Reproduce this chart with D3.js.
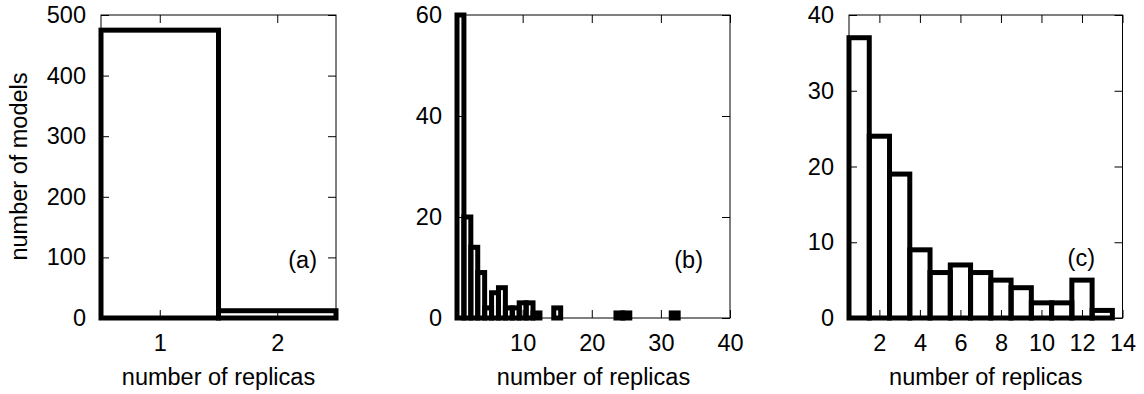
<!DOCTYPE html>
<html>
<head>
<meta charset="utf-8">
<script src="https://cdn.jsdelivr.net/npm/d3@7"></script>
<style>
  html, body { margin: 0; padding: 0; background: #fff; }
  svg text { font-family: "Liberation Sans", Arial, sans-serif; fill: #000; }
</style>
</head>
<body>
<svg id="chart" width="1144" height="394"></svg>
<script>
// ---- data ----
const replicasA = [1, 2];
const countsA = [475, 12];
const xTicksA = [1, 2];
const yTicksA = [0, 100, 200, 300, 400, 500];

const replicasB = [1, 2, 3, 4, 5, 6, 7, 8, 9, 10, 11, 12, 15, 24, 25, 32];
const countsB = [60, 20, 14, 9, 2, 5, 6, 2, 2, 3, 3, 1, 2, 1, 1, 1];
const xTicksB = [10, 20, 30, 40];
const yTicksB = [0, 20, 40, 60];

const replicasC = [1, 2, 3, 4, 5, 6, 7, 8, 9, 10, 11, 12, 13];
const countsC = [37, 24, 19, 9, 6, 7, 6, 5, 4, 2, 2, 5, 1];
const xTicksC = [2, 4, 6, 8, 10, 12, 14];
const yTicksC = [0, 10, 20, 30, 40];

const panelLabels = ["(a)", "(b)", "(c)"];
const xTitle = "number of replicas";
const yTitle = "number of models";

// ---- layout ----
const svg = d3.select("#chart");
const plotTop = 15, plotBottom = 318;
const FS = 23.5;

const panels = [
  { rep: replicasA, cnt: countsA, xd: [0.5, 2.5], yd: [0, 500], xt: xTicksA, yt: yTicksA,
    x0: 101, x1: 336, label: panelLabels[0], lx: 317, ly: 268 },
  { rep: replicasB, cnt: countsB, xd: [0.5, 40], yd: [0, 60], xt: xTicksB, yt: yTicksB,
    x0: 457, x1: 730, label: panelLabels[1], lx: 703, ly: 268 },
  { rep: replicasC, cnt: countsC, xd: [0.5, 14], yd: [0, 40], xt: xTicksC, yt: yTicksC,
    x0: 849, x1: 1122.5, label: panelLabels[2], lx: 1095, ly: 266 }
];

panels.forEach((p, i) => {
  const x = d3.scaleLinear().domain(p.xd).range([p.x0, p.x1]);
  const y = d3.scaleLinear().domain(p.yd).range([plotBottom, plotTop]);
  const g = svg.append("g");

  // frame
  g.append("rect")
    .attr("x", p.x0).attr("y", plotTop)
    .attr("width", p.x1 - p.x0).attr("height", plotBottom - plotTop)
    .attr("fill", "none").attr("stroke", "#000").attr("stroke-width", 1);

  const styleAxis = sel => {
    sel.select(".domain").remove();
    sel.selectAll(".tick line").attr("stroke", "#000").attr("stroke-width", 1);
    sel.selectAll(".tick text").attr("font-size", FS).attr("fill", "#000")
      .style("font-family", "'Liberation Sans', Arial, sans-serif");
  };

  g.append("g").attr("transform", `translate(0,${plotBottom})`)
    .call(d3.axisBottom(x).tickValues(p.xt).tickSize(-8).tickPadding(16).tickFormat(d3.format("d")))
    .call(styleAxis);
  g.append("g").attr("transform", `translate(0,${plotTop})`)
    .call(d3.axisTop(x).tickValues(p.xt).tickSize(-8).tickFormat(""))
    .call(styleAxis);
  g.append("g").attr("transform", `translate(${p.x0},0)`)
    .call(d3.axisLeft(y).tickValues(p.yt).tickSize(-8).tickPadding(15).tickFormat(d3.format("d")))
    .call(styleAxis);
  g.append("g").attr("transform", `translate(${p.x1},0)`)
    .call(d3.axisRight(y).tickValues(p.yt).tickSize(-8).tickFormat(""))
    .call(styleAxis);

  // bars
  const data = p.rep.map((r, k) => ({ r, c: p.cnt[k] }));
  g.selectAll("rect.bar").data(data).enter().append("rect")
    .attr("class", "bar")
    .attr("x", d => x(d.r - 0.5))
    .attr("y", d => y(d.c))
    .attr("width", d => x(d.r + 0.5) - x(d.r - 0.5))
    .attr("height", d => y(0) - y(d.c))
    .attr("fill", "none").attr("stroke", "#000").attr("stroke-width", 5);

  // panel label
  g.append("text").attr("x", p.lx).attr("y", p.ly)
    .attr("text-anchor", "end").attr("font-size", FS).text(p.label);

  // x title
  g.append("text").attr("x", (p.x0 + p.x1) / 2).attr("y", 385)
    .attr("text-anchor", "middle").attr("font-size", FS).text(xTitle);

  if (i === 0) {
    g.append("text")
      .attr("transform", `translate(27,${(plotTop + plotBottom) / 2}) rotate(-90)`)
      .attr("text-anchor", "middle").attr("font-size", FS).text(yTitle);
  }
});
</script>
</body>
</html>
